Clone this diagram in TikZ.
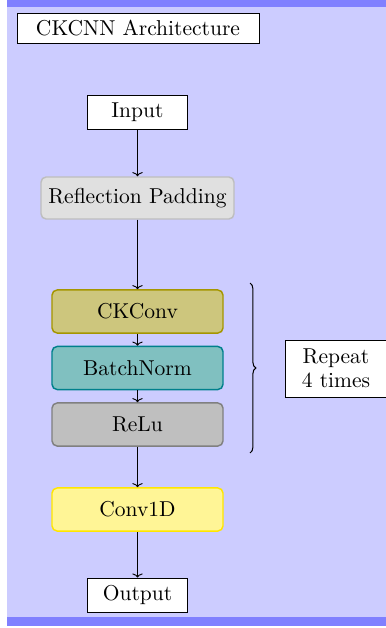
\documentclass[tikz,border=0pt]{standalone}
\usetikzlibrary{decorations.pathreplacing,arrows.meta}
\definecolor{bgblue}{RGB}{204,204,255}
\definecolor{bandblue}{RGB}{128,128,255}
\definecolor{ckfill}{RGB}{205,198,125}
\definecolor{ckdraw}{RGB}{165,150,0}
\definecolor{bnfill}{RGB}{128,192,192}
\definecolor{bndraw}{RGB}{0,128,140}
\definecolor{rlfill}{RGB}{191,191,191}
\definecolor{rldraw}{RGB}{128,128,128}
\definecolor{cvfill}{RGB}{255,245,150}
\definecolor{cvdraw}{RGB}{255,230,0}
\definecolor{rpfill}{RGB}{224,224,224}
\definecolor{rpdraw}{RGB}{190,190,190}
\begin{document}
\begin{tikzpicture}[x=0.483pt,y=-0.483pt,
  font=\fontsize{10.4}{12.5}\selectfont,
  plainbox/.style={draw=black, fill=white, inner sep=1pt, minimum width=48.3pt, minimum height=16.4pt, align=center},
  blockbox/.style={draw, rounded corners=2.5pt, line width=0.7pt, inner sep=1pt, minimum width=82.6pt, minimum height=20.8pt},
  conn/.style={-{To[length=2pt,width=5pt]}, black, line width=0.45pt}]
\useasboundingbox (0,0) rectangle (386,628);
\fill[bgblue] (7,0) rectangle (386,626);
\fill[bandblue] (7,0) rectangle (386,7);
\fill[bandblue] (7,617) rectangle (386,626);

\node[plainbox, minimum width=116.9pt, minimum height=14.5pt] (title) at (138,28) {CKCNN Architecture};

\node[plainbox] (input) at (137.5,112.5) {Input};
\node[blockbox, fill=rpfill, draw=rpdraw, minimum width=93.2pt, minimum height=20.3pt] (pad) at (137.5,198) {Reflection Padding};
\node[blockbox, fill=ckfill, draw=ckdraw] (ck) at (137.5,311.5) {CKConv};
\node[blockbox, fill=bnfill, draw=bndraw] (bn) at (137.5,368) {BatchNorm};
\node[blockbox, fill=rlfill, draw=rldraw] (relu) at (137.5,424.5) {ReLu};
\node[blockbox, fill=cvfill, draw=cvdraw] (conv) at (137.5,509.5) {Conv1D};
\node[plainbox] (output) at (137.5,595) {Output};

\node[plainbox, minimum width=48.8pt, minimum height=27.5pt, inner sep=0.5pt] (rep) at (336,368.5) {Repeat\\[-1pt]4 times};

\draw[conn] (input) -- (pad);
\draw[conn] (pad) -- (ck);
\draw[conn] (ck) -- (bn);
\draw[conn] (bn) -- (relu);
\draw[conn] (relu) -- (conv);
\draw[conn] (conv) -- (output);

\coordinate (bt) at (250,283);
\coordinate (bb) at (250,453);
\draw[decorate, decoration={brace, amplitude=2.8pt}, line width=0.5pt] (bt) -- (bb);
\end{tikzpicture}
\end{document}
